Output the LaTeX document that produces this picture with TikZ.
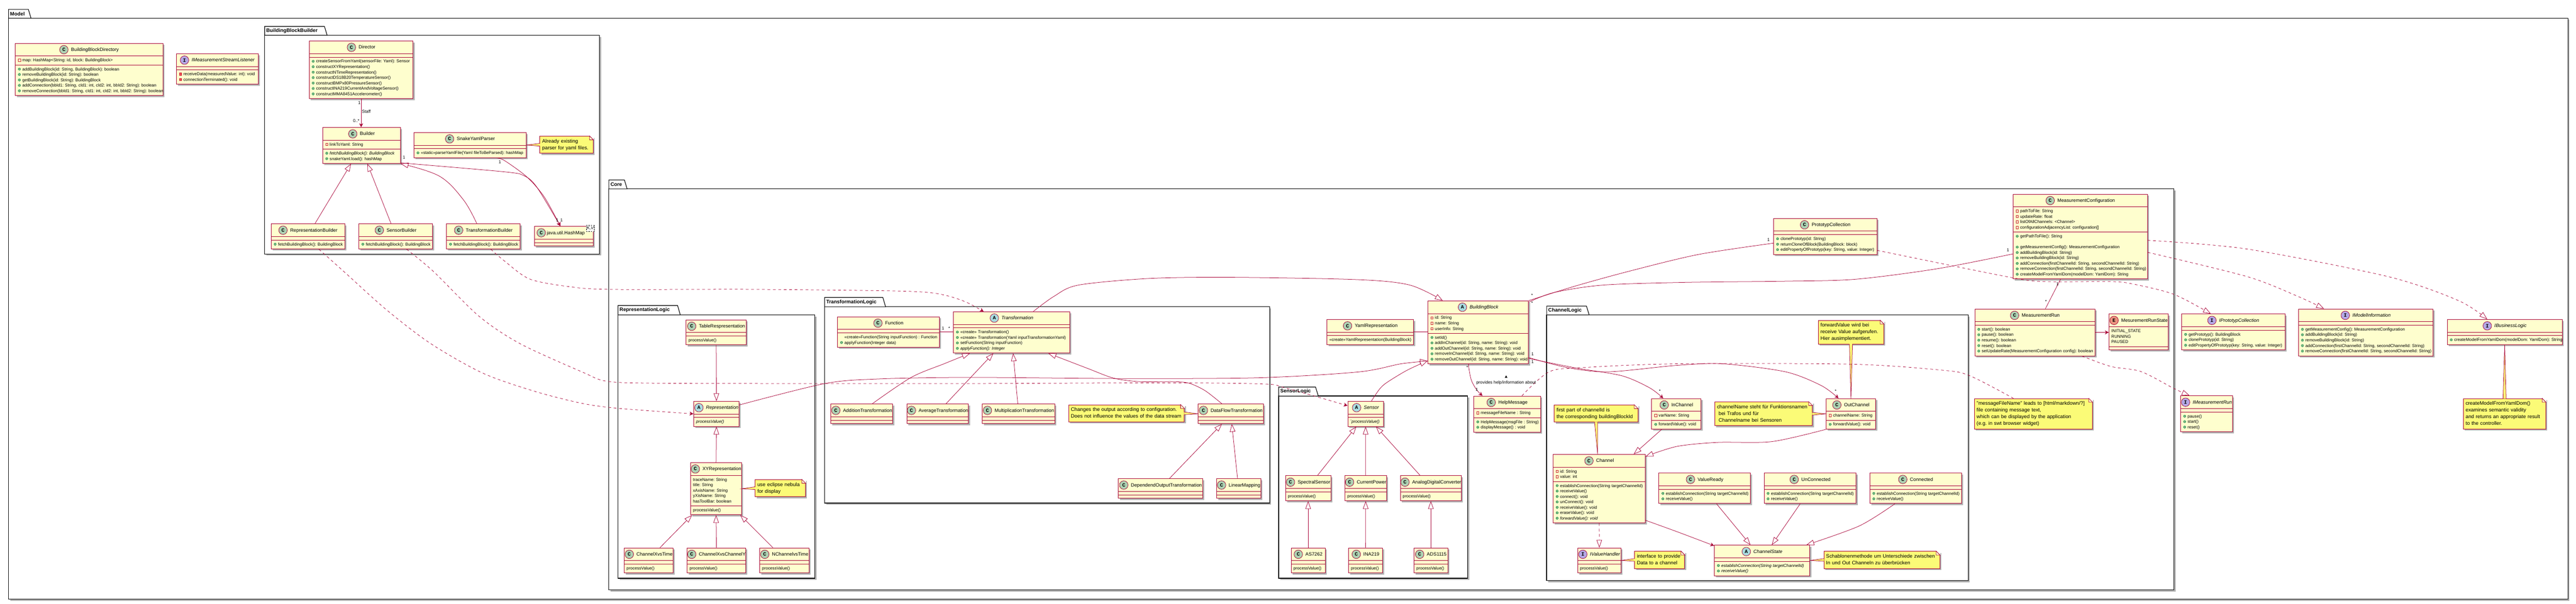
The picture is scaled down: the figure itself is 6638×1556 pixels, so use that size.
\documentclass[tikz,border=0pt]{standalone}
\usepackage{fontspec}
\usepackage{xcolor}
\setmainfont{Liberation Sans}
\setmonofont{Liberation Mono}
\usepackage{tikz}
\usetikzlibrary{arrows.meta,calc,shadows,shapes.multipart,shapes.geometric}

\definecolor{umlred}{HTML}{A80036}
\definecolor{umlfill}{HTML}{FEFECE}
\definecolor{notefill}{HTML}{FBFB77}
\definecolor{spotc}{HTML}{ADD1B2}
\definecolor{spota}{HTML}{A9DCDF}
\definecolor{spoti}{HTML}{B4A7E5}
\definecolor{spote}{HTML}{EB937F}
\definecolor{pubfill}{HTML}{84BE84}
\definecolor{publine}{HTML}{038048}
\definecolor{pvline}{HTML}{C82930}
\definecolor{pvfill}{HTML}{F24D5C}

\newsavebox{\spotC}\newsavebox{\spotA}\newsavebox{\spotI}\newsavebox{\spotE}
\newsavebox{\pubbox}\newsavebox{\pvfbox}\newsavebox{\pvmbox}
\tikzset{
  umlclass/.style={rectangle split, rectangle split parts=3,
    rectangle split empty part height=0pt, rectangle split empty part depth=0pt,
    draw=umlred, fill=umlfill, line width=1.3pt, anchor=north west,
    inner xsep=6pt, inner ysep=3.8pt, text width=#1pt-12pt,
    font=\fontsize{10.8}{14}\selectfont,
    drop shadow={shadow xshift=4pt, shadow yshift=-4pt, fill=black, opacity=.3}},
  umlnote/.style={draw=umlred, fill=notefill, line width=1.2pt, anchor=north west,
    inner xsep=6pt, inner ysep=5.2pt, text width=#1pt-12pt,
    font=\fontsize{13}{16}\selectfont,
    drop shadow={shadow xshift=4pt, shadow yshift=-4pt, fill=black, opacity=.3}},
  notelink/.style={draw=umlred, fill=notefill, line width=1pt},
  notefold/.style={draw=umlred, fill=umlfill, line width=1pt},
  pkgline/.style={draw=black, fill=white, line width=1.7pt,
    drop shadow={shadow xshift=4pt, shadow yshift=-4pt, fill=black, opacity=.3}},
  pkgtab/.style={draw=black, fill=white, line width=1.5pt},
  pkglabel/.style={font=\bfseries\fontsize{13}{14}\selectfont, inner sep=0pt},
  lbl/.style={font=\fontsize{11}{13}\selectfont, inner sep=0pt},
  umlline/.style={draw=umlred, line width=1pt},
  umlgen/.style={umlline, -{Triangle[length=20pt, width=14pt, fill=white]}},
  umlassoc/.style={umlline, -{Stealth[length=10pt, width=10pt, inset=3pt]}},
  umldash/.style={dash pattern=on 7pt off 7pt},
}
\newcommand{\mkspot}[3]{\sbox{#1}{\begin{pgfpicture}\pgfsetbaseline{-4pt}\pgfsetlinewidth{1pt}\pgfsetstrokecolor{umlred}\pgfsetfillcolor{#2}\pgfpathcircle{\pgfpointorigin}{11pt}\pgfusepath{fill,stroke}\pgftext{\ttfamily\bfseries\fontsize{13}{13}\selectfont #3}\end{pgfpicture}}}
\AtBeginDocument{%
\frenchspacing
\mkspot{\spotC}{spotc}{C}\mkspot{\spotA}{spota}{A}\mkspot{\spotI}{spoti}{I}\mkspot{\spotE}{spote}{E}%
\sbox{\pubbox}{\begin{pgfpicture}\pgfsetbaseline{-3.8pt}\pgfsetlinewidth{.7pt}\pgfsetstrokecolor{publine}\pgfsetfillcolor{pubfill}\pgfpathcircle{\pgfpointorigin}{3pt}\pgfusepath{fill,stroke}\end{pgfpicture}}%
\sbox{\pvfbox}{\begin{pgfpicture}\pgfsetbaseline{-3.8pt}\pgfsetlinewidth{.8pt}\pgfsetstrokecolor{pvline}\pgfpathrectangle{\pgfpoint{-3pt}{-3pt}}{\pgfpoint{6pt}{6pt}}\pgfusepath{stroke}\end{pgfpicture}}%
\sbox{\pvmbox}{\begin{pgfpicture}\pgfsetbaseline{-3.8pt}\pgfsetlinewidth{.7pt}\pgfsetstrokecolor{pvline}\pgfsetfillcolor{pvfill}\pgfpathrectangle{\pgfpoint{-3pt}{-3pt}}{\pgfpoint{6pt}{6pt}}\pgfusepath{fill,stroke}\end{pgfpicture}}%
}
\newcommand{\st}{\vrule width 0pt height 10pt depth 4pt\relax}
\newcommand{\ttl}[2]{\leavevmode\hbox to \hsize{\hss\vrule width 0pt height 16pt depth 8pt\relax\usebox{#1}\kern7pt{\fontsize{12.3}{14}\selectfont #2}\hss}\par}
\newcommand{\pln}[1]{\leavevmode\hbox{\st #1}\par}
\newcommand{\pub}[1]{\leavevmode\hbox{\st\kern1pt\hbox to 11pt{\usebox{\pubbox}\hss}#1}\par}
\newcommand{\pvf}[1]{\leavevmode\hbox{\st\kern1pt\hbox to 11pt{\usebox{\pvfbox}\hss}#1}\par}
\newcommand{\pvm}[1]{\leavevmode\hbox{\st\kern1pt\hbox to 11pt{\usebox{\pvmbox}\hss}#1}\par}
\newcommand{\nl}[1]{\leavevmode\hbox{\vrule width 0pt height 11.5pt depth 4.8pt\relax #1}\par}
\newcommand{\pkg}[8]{%
  \draw [pkgline] (#2,#5) rectangle (#6,#7);
  \draw [pkgtab] (#2,#5) -- (#2,#3) -- (#4-7,#3) -- (#4,#5) -- cycle;
  \node (#1) [pkglabel, anchor=west] at (#2+4,{(#3+#5)/2}) {#8};}

\begin{document}
\begin{tikzpicture}[x=1pt,y=-1pt]
\useasboundingbox (0,0) rectangle (6638,1556);
% пакеты
\pkg{model}{22}{24}{80}{47}{6617}{1545}{Model}
\pkg{bbbuilder}{682}{68}{843}{91}{1545}{655}{BuildingBlockBuilder}
\pkg{core}{1569}{464}{1616}{487}{5602}{1521}{Core}
\pkg{replogic}{1592.5}{787.5}{1753}{812}{2100}{1491}{RepresentationLogic}
\pkg{translogic}{2125}{767}{2282}{791}{3271.5}{1297}{TransformationLogic}
\pkg{senslogic}{3295}{998}{3397}{1021}{3782}{1491}{SensorLogic}
\pkg{chanlogic}{3985.5}{789}{4095}{812}{5072}{1497}{ChannelLogic}
% классы: Model
\node (directory) [umlclass=380] at (39,111) {\ttl{\spotC}{BuildingBlockDirectory}
  \nodepart{two}\pvf{map: HashMap<String: id, block: BuildingBlock>}
  \nodepart{three}\pub{addBuildingBlock(id: String, BuildingBlock): boolean}\pub{removeBuildingBlock(id: String): boolean}\pub{getBuildingBlock(id: String): BuildingBlock}\pub{addConnection(bbId1: String, cId1: int, cId2: int, bbId2: String): boolean}\pub{removeConnection(bbId1: String, cId1: int, cId2: int, bbId2: String): boolean}};
\node (streamlistener) [umlclass=211] at (454,138) {\ttl{\spotI}{\textit{IMeasurementStreamListener}}
  \nodepart{two}
  \nodepart{three}\pvm{receiveData(measuredValue: int): void}\pvm{connectionTerminated(): void}};
\node (iprototyp) [umlclass=266.5] at (5621,809) {\ttl{\spotI}{\textit{IPrototypCollection}}
  \nodepart{two}
  \nodepart{three}\pub{getPrototyp(): BuildingBlock}\pub{clonePrototyp(id: String)}\pub{editPropertyOfPrototyp(key: String, value: Integer)}};
\node (imodel) [umlclass=347] at (5922,796) {\ttl{\spotI}{\textit{IModelInformation}}
  \nodepart{two}
  \nodepart{three}\pub{getMeasurementConfig(): MeasurementConfiguration}\pub{addBuildingBlock(id: String)}\pub{removeBuildingBlock(id: String)}\pub{addConnection(firstChannelId: String, secondChannelId: String)}\pub{removeConnection(firstChannelId: String, secondChannelId: String)}};
\node (ibusiness) [umlclass=296] at (6305.5,823) {\ttl{\spotI}{\textit{IBusinessLogic}}
  \nodepart{two}
  \nodepart{three}\pub{createModelFromYamlDom(modelDom: YamlDom): String}};
\node (imrun) [umlclass=133.5] at (5618.5,1020) {\ttl{\spotI}{\textit{IMeasurementRun}}
  \nodepart{two}
  \nodepart{three}\pub{pause()}\pub{start()}\pub{reset()}};
% классы: BuildingBlockBuilder
\node (director) [umlclass=268] at (796,105) {\ttl{\spotC}{Director}
  \nodepart{two}
  \nodepart{three}\pub{createSensorFromYaml(sensorFile: Yaml): Sensor}\pub{constructXYRepresentation()}\pub{constructNTimeRepresentation()}\pub{constructDS18B20TemperatureSensor()}\pub{constructBMPx80PressureSensor()}\pub{constructINA219CurrentAndVoltageSensor()}\pub{constructMMA8451Accelerometer()}};
\node (builder) [umlclass=200] at (831,328) {\ttl{\spotC}{Builder}
  \nodepart{two}\pvf{linkToYaml: String}
  \nodepart{three}\pub{\textit{fetchBuildingBlock(): BuildingBlock}}\pub{snakeYaml.load(): hashMap}};
\node (snakeparser) [umlclass=289] at (1066,341) {\ttl{\spotC}{SnakeYamlParser}
  \nodepart{two}
  \nodepart{three}\pub{«static»parseYamlFile(Yaml fileToBeParsed): hashMap}};
\node (hashmap) [umlclass=151.5] at (1376.5,583) {\leavevmode\hbox{\vrule width 0pt height 16pt depth 8pt\relax\usebox{\spotC}\kern3pt{\fontsize{12.3}{14}\selectfont java.util.HashMap}}\par
  \nodepart{two}
  \nodepart{three}};
\node (hashmapkv) [draw=black, fill=white, dashed, line width=.8pt, minimum width=20.5pt, minimum height=16pt, inner sep=0pt, font=\itshape\fontsize{11}{13}\selectfont] at (1521,589) {K,V};
\node (repbuilder) [umlclass=190] at (698,576.5) {\ttl{\spotC}{RepresentationBuilder}
  \nodepart{two}
  \nodepart{three}\pub{fetchBuildingBlock(): BuildingBlock}};
\node (sensbuilder) [umlclass=190] at (924,576.5) {\ttl{\spotC}{SensorBuilder}
  \nodepart{two}
  \nodepart{three}\pub{fetchBuildingBlock(): BuildingBlock}};
\node (transbuilder) [umlclass=190] at (1150,576.5) {\ttl{\spotC}{TransformationBuilder}
  \nodepart{two}
  \nodepart{three}\pub{fetchBuildingBlock(): BuildingBlock}};
% классы: RepresentationLogic
\node (tablerep) [umlclass=154.5] at (1767.5,824) {\ttl{\spotC}{TableRespresentation}
  \nodepart{two}
  \nodepart{three}\pln{processValue()}};
\node (representation) [umlclass=117] at (1787,1034) {\ttl{\spotA}{\textit{Representation}}
  \nodepart{two}
  \nodepart{three}\pln{\textit{processValue()}}};
\node (xyrep) [umlclass=131] at (1779,1192) {\ttl{\spotC}{XYRepresentation}
  \nodepart{two}\pln{traceName: String}\pln{title: String}\pln{xAxisName: String}\pln{yXisName: String}\pln{hasToolBar: boolean}
  \nodepart{three}\pln{processValue()}};
\node (xvstime) [umlclass=126] at (1608,1412) {\ttl{\spotC}{ChannelXvsTime}
  \nodepart{two}
  \nodepart{three}\pln{processValue()}};
\node (xvsy) [umlclass=151] at (1770,1412) {\ttl{\spotC}{ChannelXvsChannelY}
  \nodepart{two}
  \nodepart{three}\pln{processValue()}};
\node (nvstime) [umlclass=127] at (1957,1412) {\ttl{\spotC}{NChannelvsTime}
  \nodepart{two}
  \nodepart{three}\pln{processValue()}};
% классы: TransformationLogic
\node (function) [umlclass=262.5] at (2157.5,816) {\ttl{\spotC}{Function}
  \nodepart{two}
  \nodepart{three}\pln{\kern12pt«create»Function(String inputFunction) : Function}\pub{applyFunction(Integer data)}};
\node (transformation) [umlclass=300] at (2456,803) {\ttl{\spotA}{\textit{Transformation}}
  \nodepart{two}
  \nodepart{three}\pub{«create» Transformation()}\pub{«create» Transformation(Yaml inputTransformationYaml)}\pub{setFunction(String inputFunction)}\pub{\textit{applyFunction(): Integer}}};
\node (addition) [umlclass=160] at (2140,1041) {\ttl{\spotC}{AdditionTransformation}
  \nodepart{two}
  \nodepart{three}};
\node (average) [umlclass=159] at (2336,1041) {\ttl{\spotC}{AverageTransformation}
  \nodepart{two}
  \nodepart{three}};
\node (multiplication) [umlclass=186] at (2531,1041) {\ttl{\spotC}{MultiplicationTransformation}
  \nodepart{two}
  \nodepart{three}};
\node (dataflow) [umlclass=168] at (3087,1041) {\ttl{\spotC}{DataFlowTransformation}
  \nodepart{two}
  \nodepart{three}};
\node (dependend) [umlclass=217] at (2881.5,1233.5) {\ttl{\spotC}{DependendOutputTransformation}
  \nodepart{two}
  \nodepart{three}};
\node (linearmapping) [umlclass=113.5] at (3134.5,1233.5) {\ttl{\spotC}{LinearMapping}
  \nodepart{two}
  \nodepart{three}};
% классы: Core
\node (yamlrep) [umlclass=223] at (3419,823) {\ttl{\spotC}{YamlRepresentation}
  \nodepart{two}
  \nodepart{three}\pln{«create»YamlRepresentation(BuildingBlock)}};
\node (bblock) [umlclass=259] at (3679,775) {\ttl{\spotA}{\textit{BuildingBlock}}
  \nodepart{two}\pvf{id: String}\pvf{name: String}\pvf{userInfo: String}
  \nodepart{three}\pub{setId()}\pub{addInChannel(id: String, name: String): void}\pub{addOutChannel(id: String, name: String): void}\pub{removeInChannel(id: String, name: String): void}\pub{removeOutChannel(id: String, name: String): void}};
\node (helpmessage) [umlclass=172] at (3797,1020.5) {\ttl{\spotC}{HelpMessage}
  \nodepart{two}\pvf{messageFileName : String}
  \nodepart{three}\pub{HelpMessage(msgFile : String)}\pub{displayMessage() : void}};
\node (prototyp) [umlclass=266.5] at (4569.5,562.5) {\ttl{\spotC}{PrototypCollection}
  \nodepart{two}
  \nodepart{three}\pub{clonePrototyp(id: String)}\pub{returnCloneOfBlock(BuildingBlock: block)}\pub{editPropertyOfPrototyp(key: String, value: Integer)}};
\node (mconfig) [umlclass=346] at (5187,500) {\ttl{\spotC}{MeasurementConfiguration}
  \nodepart{two}\pvf{pathToFile: String}\pvf{updateRate: float}\pvf{listOfAllChannels: <Channel>}\pvf{configurationAdjacencyList: configuration[]}
  \nodepart{three}\pub{getPathToFile(): String}\pln{}\pub{getMeasurementConfig(): MeasurementConfiguration}\pub{addBuildingBlock(id: String)}\pub{removeBuildingBlock(id: String)}\pub{addConnection(firstChannelId: String, secondChannelId: String)}\pub{removeConnection(firstChannelId: String, secondChannelId: String)}\pub{createModelFromYamlDom(modelDom: YamlDom): String}};
\node (mrun) [umlclass=310] at (5088,796) {\ttl{\spotC}{MeasurementRun}
  \nodepart{two}
  \nodepart{three}\pub{start(): boolean}\pub{pause(): boolean}\pub{resume(): boolean}\pub{reset(): boolean}\pub{setUpdateRate(MeasurementConfiguration config): boolean}};
\node (runstate) [umlclass=152.5] at (5434,809) {\ttl{\spotE}{MesurementRunState}
  \nodepart{two}\pln{INITIAL\_STATE}\pln{RUNNING}\pln{PAUSED}
  \nodepart{three}};
% классы: SensorLogic
\node (sensor) [umlclass=91.5] at (3472.5,1034) {\ttl{\spotA}{\textit{Sensor}}
  \nodepart{two}
  \nodepart{three}\pln{\textit{´processValue()}}};
\node (spectral) [umlclass=116.5] at (3312,1226) {\ttl{\spotC}{SpectralSensor}
  \nodepart{two}
  \nodepart{three}\pln{processValue()}};
\node (currentpower) [umlclass=107] at (3465,1226) {\ttl{\spotC}{CurrentPower}
  \nodepart{two}
  \nodepart{three}\pln{processValue()}};
\node (adconverter) [umlclass=157] at (3608,1226) {\ttl{\spotC}{AnalogDigitalConverter}
  \nodepart{two}
  \nodepart{three}\pln{processValue()}};
\node (as7262) [umlclass=87.5] at (3326.5,1412) {\ttl{\spotC}{AS7262}
  \nodepart{two}
  \nodepart{three}\pln{processValue()}};
\node (ina219) [umlclass=87.5] at (3474.5,1412) {\ttl{\spotC}{INA219}
  \nodepart{two}
  \nodepart{three}\pln{processValue()}};
\node (ads1115) [umlclass=87] at (3643,1412) {\ttl{\spotC}{ADS1115}
  \nodepart{two}
  \nodepart{three}\pln{processValue()}};
% классы: ChannelLogic
\node (inchannel) [umlclass=127.5] at (4255.5,1027) {\ttl{\spotC}{InChannel}
  \nodepart{two}\pvf{varName: String}
  \nodepart{three}\pub{forwardValue(): void}};
\node (outchannel) [umlclass=128] at (4705,1027) {\ttl{\spotC}{OutChannel}
  \nodepart{two}\pvf{channelName: String}
  \nodepart{three}\pub{forwardValue(): void}};
\node (channel) [umlclass=237.5] at (4001.5,1171) {\ttl{\spotC}{Channel}
  \nodepart{two}\pvf{id: String}\pvf{value: int}
  \nodepart{three}\pub{establishConnection(String targetChannelId)}\pub{receiveValue()}\pub{connect(): void}\pub{unConnect(): void}\pub{receiveValue(): void}\pub{eraseValue(): void}\pub{\textit{forwardValue(): void}}};
\node (valueready) [umlclass=236] at (4274,1219) {\ttl{\spotC}{ValueReady}
  \nodepart{two}
  \nodepart{three}\pub{establishConnection(String targetChannelId)}\pub{receiveValue()}};
\node (unconnected) [umlclass=237.5] at (4545,1219) {\ttl{\spotC}{UnConnected}
  \nodepart{two}
  \nodepart{three}\pub{establishConnection(String targetChannelId)}\pub{receiveValue()}};
\node (connected) [umlclass=236.5] at (4817.5,1219) {\ttl{\spotC}{Connected}
  \nodepart{two}
  \nodepart{three}\pub{establishConnection(String targetChannelId)}\pub{receiveValue()}};
\node (channelstate) [umlclass=246] at (4417,1405) {\ttl{\spotA}{\textit{ChannelState}}
  \nodepart{two}
  \nodepart{three}\pub{\textit{establishConnection(String targetChannelId)}}\pub{\textit{receiveValue()}}};
\node (valuehandler) [umlclass=111] at (4065,1412) {\ttl{\spotI}{\textit{IValueHandler}}
  \nodepart{two}
  \nodepart{three}\pln{processValue()}};
% заметки
\node (notesnake) [umlnote=137.5] at (1390.5,350.6) {\nl{Already existing}\nl{parser for yaml files.}};
\node (noteeclipse) [umlnote=130] at (1945,1236) {\nl{use eclipse nebula}\nl{for display}};
\node (notedataflow) [umlnote=298] at (2753,1043) {\nl{Changes the output according to configuration.}\nl{Does not influence the values of the data stream}};
\node (notechannelid) [umlnote=215.5] at (4004.5,1043.5) {\nl{first part of channelId is}\nl{the corresponding buildingBlockId}};
\node (notechannelname) [umlnote=251.5] at (4418,1035.6) {\nl{channelName steht für Funktionsnamen}\nl{\kern4pt bei Trafos und für}\nl{\kern4pt Channelname bei Sensoren}};
\node (noteforward) [umlnote=169] at (4684.5,825.4) {\nl{forwardValue wird bei}\nl{receive Value aufgerufen.}\nl{Hier ausimplementiert.}};
\node (notevalue) [umlnote=129] at (4211.5,1421) {\nl{interface to provide}\nl{Data to a channel}};
\node (notestate) [umlnote=299] at (4699,1421) {\nl{Schablonenmethode um Unterschiede zwischen}\nl{In und Out Channeln zu überbrücken}};
\node (notehelp) [umlnote=304] at (5087,1027) {\nl{"messageFileName" leads to [html/markdown/?]}\nl{file containing message text,}\nl{which can be displayed by the application}\nl{(e.g. in swt browser widget)}};
\node (notebusiness) [umlnote=212.5] at (6347,1027) {\nl{createModelFromYamlDom()}\nl{examines semantic validity}\nl{and returns an appropriate result}\nl{to the controller.}};
\foreach \n in {notesnake,noteeclipse,notedataflow,notechannelid,notechannelname,noteforward,notevalue,notestate,notehelp,notebusiness} {
  \fill [white] ([xshift=-10pt]\n.north east) -- ([xshift=1pt,yshift=1pt]\n.north east) -- ([xshift=1pt,yshift=-10pt]\n.north east) -- cycle;
  \draw [notefold] ([xshift=-10pt]\n.north east) -- ([yshift=-10pt]\n.north east) -- ([xshift=-10pt,yshift=-10pt]\n.north east) -- cycle;
}
% хвосты заметок
\filldraw [notelink] ([xshift=1pt,yshift=3.5pt]notesnake.west) -- (snakeparser.east) -- ([xshift=1pt,yshift=-3.5pt]notesnake.west);
\filldraw [notelink] ([xshift=1pt,yshift=3.5pt]noteeclipse.west) -- (xyrep.east) -- ([xshift=1pt,yshift=-3.5pt]noteeclipse.west);
\filldraw [notelink] ([xshift=-1pt,yshift=3.5pt]notedataflow.east) -- (dataflow.west) -- ([xshift=-1pt,yshift=-3.5pt]notedataflow.east);
\filldraw [notelink] ([xshift=-4pt,yshift=1pt]notechannelid.south) -- ([xshift=-4pt]channel.north) -- ([xshift=4pt,yshift=1pt]notechannelid.south);
\filldraw [notelink] ([xshift=-1pt,yshift=3.5pt]notechannelname.east) -- (outchannel.west) -- ([xshift=-1pt,yshift=-3.5pt]notechannelname.east);
\filldraw [notelink] ([xshift=-4pt,yshift=1pt]noteforward.south) -- (outchannel.north) -- ([xshift=4pt,yshift=1pt]noteforward.south);
\filldraw [notelink] ([xshift=1pt,yshift=3.5pt]notevalue.west) -- (valuehandler.east) -- ([xshift=1pt,yshift=-3.5pt]notevalue.west);
\filldraw [notelink] ([xshift=1pt,yshift=3.5pt]notestate.west) -- (channelstate.east) -- ([xshift=1pt,yshift=-3.5pt]notestate.west);
\filldraw [notelink] ([xshift=-4pt,yshift=-1pt]notebusiness.north) -- (ibusiness.south) -- ([xshift=4pt,yshift=-1pt]notebusiness.north);
% связи: наследование
\draw [umlgen] ([xshift=18pt]repbuilder.north) -- ([xshift=-27pt]builder.south);
\draw [umlgen] ([xshift=-12pt]sensbuilder.north) -- ([xshift=15pt]builder.south);
\draw [umlgen] plot [smooth, tension=.6] coordinates {([xshift=-17pt]transbuilder.north) (1194,515) (1132,454) (builder.south east)};
\draw [umlgen] (tablerep.south) -- (representation.north);
\draw [umlgen] (xyrep.north) -- (representation.south);
\draw [umlgen] ([xshift=29pt]xvstime.north) -- ([xshift=-62pt]xyrep.south);
\draw [umlgen] (xvsy.north) -- (xyrep.south);
\draw [umlgen] ([xshift=-29.5pt]nvstime.north) -- ([xshift=62.5pt]xyrep.south);
\draw [umlgen] plot [smooth, tension=.5] coordinates {([yshift=-10pt]representation.north east) (2125,989) (2265,977) (2500,973) (2891,976) (3242,974) (3500,959) (3610,938) ([yshift=8pt]bblock.south west)};
\draw [umlgen] plot [smooth, tension=.5] coordinates {([xshift=56pt]transformation.north) (2716,764) (2779,735) (2961,718) (3172,715) (3500,721) (3633,735) ([xshift=-91.5pt]bblock.north)};
\draw [umlgen] plot [smooth, tension=.5] coordinates {([xshift=27pt]addition.north) (2348,973) (2435,937) ([xshift=-107.5pt]transformation.south)};
\draw [umlgen] ([xshift=21.5pt]average.north) -- ([xshift=-47pt]transformation.south);
\draw [umlgen] ([xshift=-2pt]multiplication.north) -- ([xshift=4pt]transformation.south);
\draw [umlgen] plot [smooth, tension=.5] coordinates {([xshift=-23pt]dataflow.north) (3105,1007) (3064,988) (3024,984) (2937,984) (2870,975) (2803,950) ([xshift=95pt]transformation.south)};
\draw [umlgen] ([xshift=23pt]dependend.north) -- ([xshift=-23pt]dataflow.south);
\draw [umlgen] ([xshift=-3pt]linearmapping.north) -- ([xshift=2.5pt]dataflow.south);
\draw [umlgen] plot [smooth, tension=.5] coordinates {([xshift=15pt]sensor.north) (3555,1003) (3574,986) (3625,955) ([yshift=9pt]bblock.south west)};
\draw [umlgen] ([xshift=24pt]spectral.north) -- ([xshift=-24pt]sensor.south);
\draw [umlgen] (currentpower.north) -- (sensor.south);
\draw [umlgen] ([xshift=-27.5pt]adconverter.north) -- ([xshift=27pt]sensor.south);
\draw [umlgen] (as7262.north) -- (spectral.south);
\draw [umlgen] (ina219.north) -- (currentpower.south);
\draw [umlgen] (ads1115.north) -- (adconverter.south);
\draw [umlgen] ([xshift=-38pt]inchannel.south) -- ([xshift=89pt]channel.north);
\draw [umlgen] plot [smooth, tension=.5] coordinates {(outchannel.south west) (4566,1138.5) (4426,1140.6) (4321,1151) ([yshift=-6pt]channel.north east)};
\draw [umlgen] ([xshift=30.6pt]valueready.south) -- ([xshift=-30pt]channelstate.north);
\draw [umlgen] ([xshift=-25.7pt]unconnected.south) -- ([xshift=25pt]channelstate.north);
\draw [umlgen] plot [smooth, tension=.5] coordinates {([xshift=-53.7pt]connected.south) (4791,1356) ([xshift=114pt]channelstate.north)};
% связи: реализация
\draw [umlgen, umldash] (channel.south) -- (valuehandler.north);
\draw [umlgen, umldash] plot [smooth, tension=.5] coordinates {([yshift=-36pt]prototyp.east) (5180,715) (5272,726) (5440,726) (5500,733) (5602,759) ([xshift=-58pt]iprototyp.north)};
\draw [umlgen, umldash] plot [smooth, tension=.5] coordinates {([yshift=-9.6pt]mconfig.east) (5790,642) (6153,713) (6334,774.5) ([xshift=-45pt]ibusiness.north)};
\draw [umlgen, umldash] plot [smooth, tension=.5] coordinates {([yshift=-40.6pt]mconfig.east) (5790,713) (5921,764) ([xshift=-107.5pt]imodel.north)};
\draw [umlgen, umldash] plot [smooth, tension=.5] coordinates {([xshift=121pt]mrun.south) (5440,945) (5517,958) (5601.6,1001.5) ([xshift=-43.7pt]imrun.north)};
% связи: зависимости
\draw [umlassoc, umldash] plot [smooth, tension=.5] coordinates {([xshift=28pt]repbuilder.south) (886,700) (995,798) (1110,886) (1244,962) (1378,1009) (1500,1040) (1596,1053) (representation.west)};
\draw [umlassoc, umldash] plot [smooth, tension=.5] coordinates {([xshift=28pt]sensbuilder.south) (1117,700) (1234,815) (1340,886) (1500,959) (1564,983) (1691,988) (2074,989) (2500,989) (3000,987) (3255,990) (3312,1000) ([yshift=-12pt]sensor.north west)};
\draw [umlassoc, umldash] plot [smooth, tension=.5] coordinates {([xshift=19pt]transbuilder.south) (1300,673) (1364,719) (1459,738) (1568,746) (1938,746) (2300,750) (2400,755) (2450,765) (2492,780) ([xshift=-72pt]transformation.north)};
\draw [umlline, umldash] plot [smooth, tension=.5] coordinates {([xshift=38pt]helpmessage.north) (3991,959) (4075,948) (4321,938) (4770,939) (5000,954) (5074,968) ([xshift=-51.4pt]notehelp.north)};
% связи: ассоциации
\draw [umlassoc] (director.south) -- ([xshift=-1pt]builder.north);
\draw [umlassoc] plot [smooth, tension=.5] coordinates {([yshift=2pt]builder.south east) (1300,443) (1351,453.5) (1383,482) ([xshift=-9pt]hashmap.north)};
\draw [umlassoc] plot [smooth, tension=.5] coordinates {([xshift=68pt]snakeparser.south) (1300,414) (1357,455.6) (1402,507) ([xshift=-9pt]hashmap.north)};
\draw [umlline] (function.east) -- (function.east -| transformation.west);
\draw [umlline] (yamlrep.east) -- (yamlrep.east -| bblock.west);
\draw [umlassoc] plot [smooth, tension=.5] coordinates {([xshift=-23.5pt]bblock.south) (3784,942) (3791,979) (3805,1005) ([xshift=-63.5pt]helpmessage.north)};
\draw [umlassoc] plot [smooth, tension=.5] coordinates {([yshift=15pt]bblock.south east) (3984,933.5) (4068,950) (4180,969) (4251,1000) ([xshift=-34pt]inchannel.north)};
\draw [umlassoc] plot [smooth, tension=.5] coordinates {([yshift=17pt]bblock.south east) (4040,948) (4145,958.6) (4321,942) (4440,938) (4601,958.6) (4693,994) ([xshift=-32pt]outchannel.north)};
\draw [umlline] plot [smooth, tension=.5] coordinates {(bblock.north east) (4061,737) (4201,698.5) (4377,656) ([yshift=-17.5pt]prototyp.west)};
\draw [umlline] plot [smooth, tension=.5] coordinates {([yshift=-4pt]bblock.north east) (4005,754) (4131,735) (4342,728) (4600,725) (4781,720) (4991,693) ([yshift=-44.6pt]mconfig.west)};
\draw [umlline] ([xshift=-51pt]mconfig.south) -- ([xshift=27pt]mrun.north);
\draw [umlassoc] (mrun.east) -- (mrun.east -| runstate.west);
\draw [umlassoc] plot [smooth, tension=.5] coordinates {([yshift=7.5pt]channel.south east) (4321,1370.7) ([yshift=-2pt]channelstate.north west)};
% подписи
\node (lbldirector) [lbl] at (926,265) {1};
\node (lblstaff) [lbl] at (944,288) {Staff};
\node (lblbuilder) [lbl] at (918,311) {0..*};
\node (lblbuilderone) [lbl] at (1041,406) {1};
\node (lblparserone) [lbl] at (1288,418) {1};
\node (lblmapa) [lbl] at (1436,568) {1};
\node (lblmapb) [lbl] at (1447,568) {1};
\node (lblfunction) [lbl] at (2430,847) {1};
\node (lbltrans) [lbl] at (2446,846) {*};
\node (lblblockstar) [lbl] at (3781,948) {*};
\node (lblhelpone) [lbl] at (3805.5,1004) {1};
\node (lblhelp) [lbl] at (3881,987) {provides help/information about};
\node (lblhelpdir) [regular polygon, regular polygon sides=3, fill=black, inner sep=0pt, minimum size=8pt] at (3881,972) {};
\node (lblina) [lbl] at (3949,912.5) {1};
\node (lblinb) [lbl] at (3949,932.6) {1};
\node (lblinchan) [lbl] at (4277,1009) {*};
\node (lbloutchan) [lbl] at (4730,1009) {*};
\node (lblblocka) [lbl] at (3948,761) {*};
\node (lblblockb) [lbl] at (3948,781) {*};
\node (lblproto) [lbl] at (4557,618) {1};
\node (lblconfig) [lbl] at (5174,645) {1};
\node (lblcfgone) [lbl] at (5302,732) {1};
\node (lblrunstar) [lbl] at (5272,778) {*};
\end{tikzpicture}
\end{document}
